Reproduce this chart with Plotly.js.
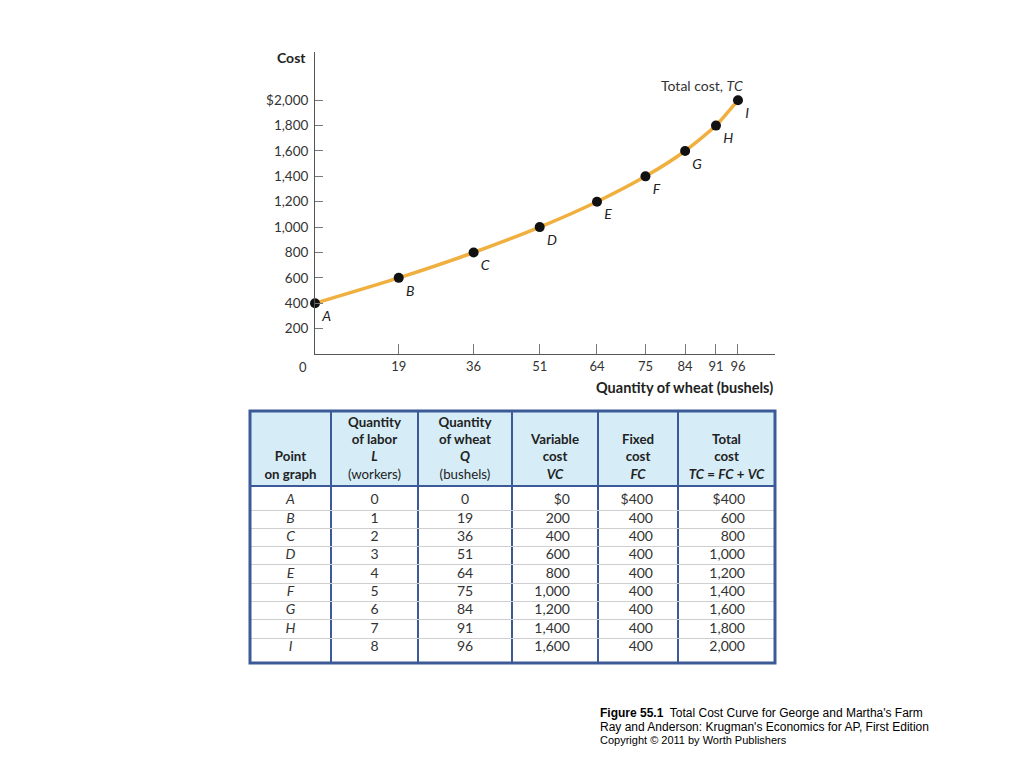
<!DOCTYPE html>
<html>
<head>
<meta charset="utf-8">
<script src="https://cdn.plot.ly/plotly-3.0.1.min.js"></script>
<style>html,body{margin:0;padding:0;background:#fff;}#chart{width:1024px;height:768px;}</style>
</head>
<body>
<div id="chart"></div>
<script>
// ---- data ----
const points = ["A","B","C","D","E","F","G","H","I"];
const labor = [0,1,2,3,4,5,6,7,8];
const wheat = [0,19,36,51,64,75,84,91,96];
const variableCost = [0,200,400,600,800,1000,1200,1400,1600];
const fixedCost = [400,400,400,400,400,400,400,400,400];
const totalCost = [400,600,800,1000,1200,1400,1600,1800,2000];
const yTickVals = [200,400,600,800,1000,1200,1400,1600,1800,2000];
const xTickVals = [19,36,51,64,75,84,91,96];
const headers = [
  '<b>Point</b><br><b>on graph</b>',
  '<b>Quantity</b><br><b>of labor</b><br><b><i>L</i></b><br>(workers)',
  '<b>Quantity</b><br><b>of wheat</b><br><b><i>Q</i></b><br>(bushels)',
  '<b>Variable</b><br><b>cost</b><br><b><i>VC</i></b>',
  '<b>Fixed</b><br><b>cost</b><br><b><i>FC</i></b>',
  '<b>Total</b><br><b>cost</b><br><b><i>TC</i> = <i>FC</i> + <i>VC</i></b>'
];

// ---- layout constants ----
const FONT = 'Lato, "Open Sans", sans-serif';
const CAPFONT = '"Liberation Sans", Arial, sans-serif';
const BLUE = '#3d5a98';
const colWidths = [81,87,94,86,80,97];   // px widths of table columns
const rightPad = [0,0,0,28,25,30];         // right padding for right-aligned columns
const tableTop = 411, tableBottom = 663, headerBottom = 486;
const firstRule = 510, rowPitch = 18.33;   // px position of first row rule, row pitch

const fmt = v => v.toLocaleString('en-US');
const yTickText = yTickVals.map((v,i)=> i===yTickVals.length-1 ? '$'+fmt(v) : fmt(v));
const money = arr => arr.map((v,i)=> i===0 ? '$'+fmt(v) : fmt(v));

// ---- chart trace ----
const curve = {
  type:'scatter', mode:'lines+markers+text',
  x: wheat, y: totalCost, xaxis:'x', yaxis:'y',
  text: points.map(p=>'<i>'+p+'</i>'),
  textposition:'bottom right',
  textfont:{family:FONT,size:14,color:'#222'},
  line:{color:'#f0b040',width:3.5,shape:'spline',smoothing:0.6},
  marker:{color:'#111',size:10},
  cliponaxis:false, hoverinfo:'none', showlegend:false
};

// ---- table built as text on its own axes (units = rows) ----
const nRows = points.length;
const row0px = firstRule - rowPitch;
const toUnits = px => (px - row0px)/rowPitch;
const yTop = toUnits(tableTop), yBot = toUnits(tableBottom), yHead = toUnits(headerBottom);
const edges = [0]; colWidths.forEach(w=>edges.push(edges[edges.length-1]+w));
const totalW = edges[edges.length-1];

const columns = [
  points.map(p=>'<i>'+p+'</i>'),
  labor.map(String),
  wheat.map(String),
  money(variableCost),
  money(fixedCost),
  money(totalCost)
];
const bx=[], by=[], bt=[], bp=[];
columns.forEach((col,c)=>{
  col.forEach((t,r)=>{
    if (rightPad[c]>0){ bx.push(edges[c+1]-rightPad[c]); bp.push('middle left'); }
    else { bx.push((edges[c]+edges[c+1])/2); bp.push('middle center'); }
    by.push(r+0.5); bt.push(t);
  });
});
const body = {
  type:'scatter', mode:'text', xaxis:'x2', yaxis:'y2',
  x:bx, y:by, text:bt, textposition:bp,
  textfont:{family:FONT,size:14,color:'#333'},
  cliponaxis:false, hoverinfo:'none', showlegend:false
};
const head = {
  type:'scatter', mode:'text', xaxis:'x2', yaxis:'y2',
  x: headers.map((h,c)=>(edges[c]+edges[c+1])/2),
  y: headers.map(()=> toUnits(headerBottom-4)),
  text: headers, textposition:'top center',
  textfont:{family:FONT,size:13.3,color:'#222'},
  cliponaxis:false, hoverinfo:'none', showlegend:false
};

const shapes = [
  {type:'rect',xref:'x2 domain',yref:'y2',x0:0,x1:1,y0:yTop,y1:yHead,
   fillcolor:'#d6edf8',line:{width:0},layer:'below'},
  {type:'line',xref:'x2 domain',yref:'y2',x0:0,x1:1,y0:yHead,y1:yHead,line:{color:BLUE,width:2}},
  {type:'rect',xref:'x2 domain',yref:'y2 domain',x0:0,x1:1,y0:0,y1:1,line:{color:BLUE,width:3}}
];

const layout = {
  width:1024,height:768,
  margin:{l:0,r:0,t:0,b:0},
  paper_bgcolor:'#fff',plot_bgcolor:'rgba(0,0,0,0)',
  font:{family:FONT,size:13,color:'#333'},
  showlegend:false,
  xaxis:{
    domain:[315/1024,775/1024], range:[0,104.4],
    showgrid:false, zeroline:false,
    showline:true, linecolor:'#555', linewidth:1,
    tickmode:'array', tickvals:xTickVals, ticktext:xTickVals.map(String),
    ticks:'inside', ticklen:10, tickcolor:'#777', tickwidth:1,
    tickfont:{family:FONT,size:13,color:'#333'},
    anchor:'y', fixedrange:true
  },
  yaxis:{
    domain:[(768-354)/768,(768-52)/768], range:[0,2380],
    showgrid:false, zeroline:false,
    showline:true, linecolor:'#555', linewidth:1,
    tickmode:'array', tickvals:yTickVals, ticktext:yTickText,
    ticks:'inside', ticklen:8, tickcolor:'#777', tickwidth:1,
    ticklabelstandoff:3,
    tickfont:{family:FONT,size:13.5,color:'#333'},
    anchor:'x', fixedrange:true
  },
  xaxis2:{
    domain:[250/1024,775/1024], range:[0,totalW], anchor:'y2',
    showgrid:true, gridcolor:BLUE, gridwidth:2,
    tickmode:'array', tickvals:edges.slice(1,-1), showticklabels:false, ticks:'',
    zeroline:false, showline:false, fixedrange:true
  },
  yaxis2:{
    domain:[(768-tableBottom)/768,(768-tableTop)/768], range:[yBot,yTop], anchor:'x2',
    showgrid:true, gridcolor:'#cfcfcf', gridwidth:1,
    tickmode:'array', tickvals:points.slice(1).map((p,i)=>i+1), showticklabels:false, ticks:'',
    zeroline:false, showline:false, fixedrange:true
  },
  shapes: shapes,
  annotations:[
    {xref:'paper',yref:'paper',x:291/1024,y:(768-57)/768,text:'<b>Cost</b>',showarrow:false,
     font:{family:FONT,size:14,color:'#222'},xanchor:'center',yanchor:'middle'},
    {xref:'paper',yref:'paper',x:775/1024,y:(768-387)/768,text:'<b>Quantity of wheat (bushels)</b>',showarrow:false,
     font:{family:FONT,size:14.5,color:'#222'},xanchor:'right',yanchor:'middle'},
    {xref:'paper',yref:'paper',x:303/1024,y:(768-367)/768,text:'0',showarrow:false,
     font:{family:FONT,size:13,color:'#333'},xanchor:'center',yanchor:'middle'},
    {xref:'paper',yref:'paper',x:745/1024,y:(768-85)/768,text:'Total cost, <i>TC</i>',showarrow:false,
     font:{family:FONT,size:14,color:'#333'},xanchor:'right',yanchor:'middle'},
    {xref:'paper',yref:'paper',x:598/1024,y:(768-713)/768,
     text:'<b>Figure 55.1</b>  Total Cost Curve for George and Martha\'s Farm',showarrow:false,
     font:{family:CAPFONT,size:12,color:'#000'},xanchor:'left',yanchor:'middle'},
    {xref:'paper',yref:'paper',x:598/1024,y:(768-727)/768,
     text:'Ray and Anderson: Krugman\'s Economics for AP, First Edition',showarrow:false,
     font:{family:CAPFONT,size:12,color:'#000'},xanchor:'left',yanchor:'middle'},
    {xref:'paper',yref:'paper',x:598/1024,y:(768-740)/768,
     text:'Copyright © 2011 by Worth Publishers',showarrow:false,
     font:{family:CAPFONT,size:11,color:'#000'},xanchor:'left',yanchor:'middle'}
  ]
};

Plotly.newPlot('chart',[curve,body,head],layout,{displayModeBar:false,staticPlot:true});
</script>
</body>
</html>
